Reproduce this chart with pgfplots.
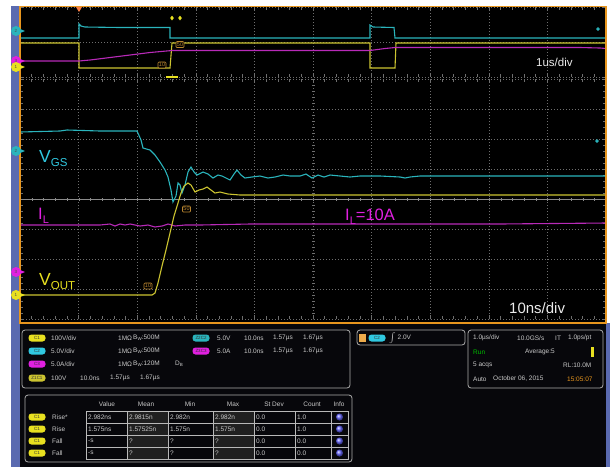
\documentclass[border=0pt]{standalone}
\usepackage{fontspec}
\setmainfont{Liberation Sans}
\usepackage{pgfplots}
\pgfplotsset{compat=1.18}
\definecolor{scyan}{HTML}{2AB4BC}
\definecolor{lcyan}{HTML}{30C8E0}
\definecolor{syellow}{HTML}{CCC430}
\definecolor{lyellow}{HTML}{E8E020}
\definecolor{smag}{HTML}{B82AB8}
\definecolor{lmag}{HTML}{E020E0}
\definecolor{sorange}{HTML}{E8961E}
\definecolor{bluestrip}{HTML}{5A6AB0}
\definecolor{paneldark}{HTML}{07070B}
\definecolor{ptext}{HTML}{C8C8C8}
\definecolor{curs}{HTML}{B88430}
\definecolor{gridc}{HTML}{6E6E6E}
\newcommand{\pill}[4]{\node[fill=#1, rounded corners=3pt, minimum width=17pt, minimum height=7pt, inner sep=0pt, font=\fontsize{4.5}{4.5}\selectfont, text=black!80] at (#2,#3) {#4};}
\newcommand{\ptxt}[3]{\node[anchor=west, inner sep=0pt, text=ptext, font=\fontsize{6.5}{6.5}\selectfont] at (#1,#2) {#3};}
\newcommand{\cmark}[4]{\fill[#1] (#2+3,#3-2.5) -- (#2+9,#3) -- (#2+3,#3+2.5) -- cycle; \fill[#1] (#2,#3) circle (5); \node[font=\fontsize{4.5}{4.5}\selectfont, text=black!70, inner sep=0pt] at (#2,#3) {#4};}
\pgfplotsset{scopegrid/.style={
  scale only axis, width=586pt, xmin=20, xmax=606, y dir=reverse,
  axis line style={draw=none},
  xtick={20,78.6,137.2,195.8,254.4,313,371.6,430.2,488.8,547.4,606},
  xticklabels={}, yticklabels={},
  grid=major, grid style={gridc, line width=0.5pt, dash pattern=on 0.6pt off 2.4pt},
  minor x tick num=4,
  tick align=inside, major tick length=4pt, minor tick length=3pt,
  tick style={gridc, line width=0.5pt},
  clip=true}}
\begin{document}
\begin{tikzpicture}
\begin{scope}[x=1pt,y=-1pt]
\fill[white] (0,0) rectangle (613,467);
\fill[bluestrip] (11,6) rectangle (20,467);
\fill[black] (20,6) rectangle (606,323);
\fill[paneldark] (20,323) rectangle (610,467);
\fill[bluestrip] (606,323) rectangle (610,467);
\end{scope}

% ---------- overview strip (1us/div)
\begin{axis}[scopegrid, at={(20pt,-7pt)}, anchor=north west, height=70pt,
  ymin=7, ymax=77, ytick={7,42,77}]
\addplot[scyan, line width=1.1pt] coordinates {(20,38) (79,38) (79,24) (81,26) (85,27) (120,27.5) (170,27.5) (170,38) (370,38) (370,25) (373,27) (394,27.5) (395,38) (606,38)};
\addplot[syellow, line width=1.1pt] coordinates {(20,43) (79,43) (79,68) (170,68) (172,43) (370,43) (370,68) (395,68) (396,43) (606,43)};
\addplot[smag, line width=1.1pt] coordinates {(20,61) (79,61) (90,60) (110,57.5) (130,55) (150,52.5) (172,50.5) (200,50.5) (300,50.5) (370,50.5) (385,48.5) (395,47.5) (500,47.5) (580,47.5) (600,48) (606,48.5)};
\addplot[only marks, mark=*, mark size=1.5pt, scyan] coordinates {(598,29)};
\addplot[only marks, mark=diamond*, mark size=2pt, lyellow] coordinates {(172,18) (180,18)};
\end{axis}

% ---------- main window (10ns/div)
\begin{axis}[scopegrid, at={(20pt,-79pt)}, anchor=north west, height=240pt,
  ymin=79, ymax=319, ytick={79,109,139,169,199,229,259,289,319}, minor y tick num=4]
\draw[gridc!80!white, line width=0.5pt] (axis cs:20,199) -- (axis cs:606,199);
\draw[gridc!80!white, line width=3pt, dash pattern=on 0.6pt off 11.12pt] (axis cs:20,199) -- (axis cs:606,199);
\draw[gridc, line width=0.5pt, dash pattern=on 0.6pt off 2.4pt] (axis cs:313,79) -- (axis cs:313,319);
\draw[gridc, line width=3pt, dash pattern=on 0.6pt off 5.4pt] (axis cs:313,79) -- (axis cs:313,319);
\addplot[smag, line width=1.1pt] coordinates {(20,225) (100,225) (110,224) (115,226) (120,224) (125,225) (130,224) (135,225) (140,226) (148,225) (155,227) (162,226) (168,224) (175,226) (185,225) (200,225) (250,224) (300,224) (400,224) (500,224) (606,223)};
\addplot[scyan, line width=1.1pt] coordinates {(20,132) (60,131) (67,130) (100,131) (137,131) (141,140) (143,148) (150,150) (155,155) (160,162) (165,170) (168,177) (171,190) (173,202) (176,196) (178,183) (180,185) (182,193) (185,185) (188,172) (191,167) (194,172) (197,175) (203,172) (208,174) (213,178) (218,175) (222,176) (226,178) (230,180) (234,174) (237,170) (241,175) (245,178) (252,177) (260,176) (268,178) (275,177) (283,175) (290,176) (300,176) (306,174) (312,178) (318,175) (324,177) (330,175) (340,176) (350,177) (360,176) (380,176) (400,177) (405,178) (410,177) (420,176) (450,176) (500,176) (550,176) (606,176)};
\addplot[syellow, line width=1.1pt] coordinates {(20,295) (60,295) (100,295) (140,295) (152,295) (155,293) (158,283) (162,266) (166,250) (170,233) (174,216) (178,203) (181,193) (184,186) (188,183) (191,185) (195,192) (199,190) (203,189) (207,187) (211,190) (215,193) (220,192) (228,194) (240,195) (260,195) (300,195) (400,195) (500,195) (606,195)};
\addplot[only marks, mark=*, mark size=1.5pt, scyan] coordinates {(597,141)};
\end{axis}

\begin{scope}[x=1pt,y=-1pt]
% frame
\draw[sorange, line width=1.4pt] (20,6.7) -- (606,6.7) -- (606,323) -- (20,323) -- cycle;
\fill[red!40!sorange!80!white] (76,7) -- (82,7) -- (79,12) -- cycle;
% channel markers
\cmark{scyan}{16}{31}{2}
\cmark{lmag}{16}{61}{3}
\cmark{lyellow}{16}{67}{1}
\cmark{scyan}{16}{151}{2}
\cmark{lmag}{16}{272}{3}
\cmark{lyellow}{16}{295}{1}
% cursor boxes
\tikzset{cbox/.style={draw=curs, fill=black, rounded corners=1pt, inner sep=1pt, text=curs, font=\fontsize{5.5}{5.5}\selectfont, line width=0.7pt}}
\node[cbox] at (186.5,209) {50};
\node[cbox] at (148,286) {10};
\node[cbox] at (180,44.5) {50};
\node[cbox] at (162,65) {10};
\fill[lyellow] (166,76) rectangle (178,78);
% labels
\node[anchor=base west, inner sep=0pt, text=lcyan, font=\fontsize{17.5}{17.5}\selectfont] at (39,162) {V\raisebox{-4pt}{\fontsize{11.5}{11.5}\selectfont GS}};
\node[anchor=base west, inner sep=0pt, text=lyellow, font=\fontsize{17.5}{17.5}\selectfont] at (39,285) {V\raisebox{-4pt}{\fontsize{11.5}{11.5}\selectfont OUT}};
\node[anchor=base west, inner sep=0pt, text=lmag, font=\fontsize{16.5}{16.5}\selectfont] at (38,219) {I\raisebox{-4pt}{\fontsize{11}{11}\selectfont L}};
\node[anchor=base west, inner sep=0pt, text=lmag, font=\fontsize{16.5}{16.5}\selectfont] at (345,220) {I\raisebox{-4pt}{\fontsize{11}{11}\selectfont L}=10A};
\node[anchor=base west, inner sep=0pt, text=white!92!black, font=\fontsize{15}{15}\selectfont] at (509,313) {10ns/div};
\node[anchor=base west, inner sep=0pt, text=white!92!black, font=\fontsize{11.5}{11.5}\selectfont] at (536,66) {1us/div};

% ---------- bottom panels
\tikzset{pbox/.style={draw=gray!65, rounded corners=3pt, line width=0.8pt}}
\draw[pbox] (22,330) rectangle (350,388);
\draw[pbox] (357,330) rectangle (465,345);
\draw[pbox] (468,330) rectangle (603,388);
% panel 1
\pill{lyellow}{37}{338}{C1}\ptxt{51}{338}{100V/div}\ptxt{118}{338}{1MΩ}\ptxt{133}{338}{B\raisebox{-1pt}{\fontsize{4.5}{4.5}\selectfont W}:500M}
\pill{scyan}{201}{338}{Z2C2}\ptxt{217}{338}{5.0V}\ptxt{244}{338}{10.0ns}\ptxt{273}{338}{1.57µs}\ptxt{303}{338}{1.67µs}
\pill{lcyan}{37}{351}{C2}\ptxt{51}{351}{5.0V/div}\ptxt{118}{351}{1MΩ}\ptxt{133}{351}{B\raisebox{-1pt}{\fontsize{4.5}{4.5}\selectfont W}:500M}
\pill{lmag}{201}{351}{Z3C3}\ptxt{217}{351}{5.0A}\ptxt{244}{351}{10.0ns}\ptxt{273}{351}{1.57µs}\ptxt{303}{351}{1.67µs}
\pill{lmag}{37}{364}{C3}\ptxt{51}{364}{5.0A/div}\ptxt{118}{364}{1MΩ}\ptxt{133}{364}{B\raisebox{-1pt}{\fontsize{4.5}{4.5}\selectfont W}:120M}\ptxt{175}{364}{D\raisebox{-1pt}{\fontsize{4.5}{4.5}\selectfont B}}
\pill{syellow}{37}{378}{Z1C1}\ptxt{51}{378}{100V}\ptxt{80}{378}{10.0ns}\ptxt{110}{378}{1.57µs}\ptxt{140}{378}{1.67µs}
% panel 2
\fill[sorange!80!white] (359,334) rectangle (366,342);
\pill{lcyan}{377}{338}{C2}\ptxt{389}{338}{$\int$ 2.0V}
% panel 3
\ptxt{473}{338}{1.0µs/div}\ptxt{517}{338}{10.0GS/s}\ptxt{555}{338}{IT}\ptxt{568}{338}{1.0ps/pt}
\node[anchor=west, inner sep=0pt, text=green!75!black, font=\fontsize{6.5}{6.5}\selectfont] at (473,352) {Run};
\ptxt{525}{352}{Average:5}
\fill[lyellow] (591,347) rectangle (594,357);
\ptxt{473}{365}{5 acqs}\ptxt{563}{365}{RL:10.0M}
\ptxt{473}{379}{Auto}\ptxt{493}{379}{October 06, 2015}
\node[anchor=west, inner sep=0pt, text=sorange, font=\fontsize{6.5}{6.5}\selectfont] at (567,379) {15:05:07};
% table
\draw[pbox] (25,395) rectangle (352,462);
\foreach \cx/\t in {107/Value, 146/Mean, 190/Min, 233/Max, 274/St Dev, 312/Count, 339/Info}
  {\node[text=ptext, font=\fontsize{6.5}{6.5}\selectfont, inner sep=0pt] at (\cx,404) {\t};}
\foreach \r in {0,1,2,3}{
  \pgfmathsetmacro{\ya}{411+12*\r}
  \pgfmathsetmacro{\yb}{423+12*\r}
  \fill[gray!25!black] (127,\ya) rectangle (168,\yb);
  \fill[gray!25!black] (213,\ya) rectangle (254,\yb);
  \foreach \xa/\xb in {86/127,127/168,168/213,213/254,254/295,295/331,331/348}
    {\draw[gray!55, line width=0.5pt] (\xa,\ya) rectangle (\xb,\yb);}
  \pgfmathsetmacro{\yc}{417+12*\r}
  \pill{lyellow}{37}{\yc}{C1}
  \shade[ball color=blue!60!white] (339.5,\yc) circle (3.6);
}
\newcommand{\trow}[8]{\ptxt{52}{#1}{#2}\ptxt{88}{#1}{#3}\ptxt{129}{#1}{#4}\ptxt{170}{#1}{#5}\ptxt{215}{#1}{#6}\ptxt{256}{#1}{#7}\ptxt{297}{#1}{#8}}
\trow{417}{Rise*}{2.982ns}{2.9815n}{2.982n}{2.982n}{0.0}{1.0}
\trow{429}{Rise}{1.575ns}{1.57525n}{1.575n}{1.575n}{0.0}{1.0}
\trow{441}{Fall}{-s}{?}{?}{?}{0.0}{0.0}
\trow{453}{Fall}{-s}{?}{?}{?}{0.0}{0.0}
\end{scope}
\end{tikzpicture}
\end{document}
